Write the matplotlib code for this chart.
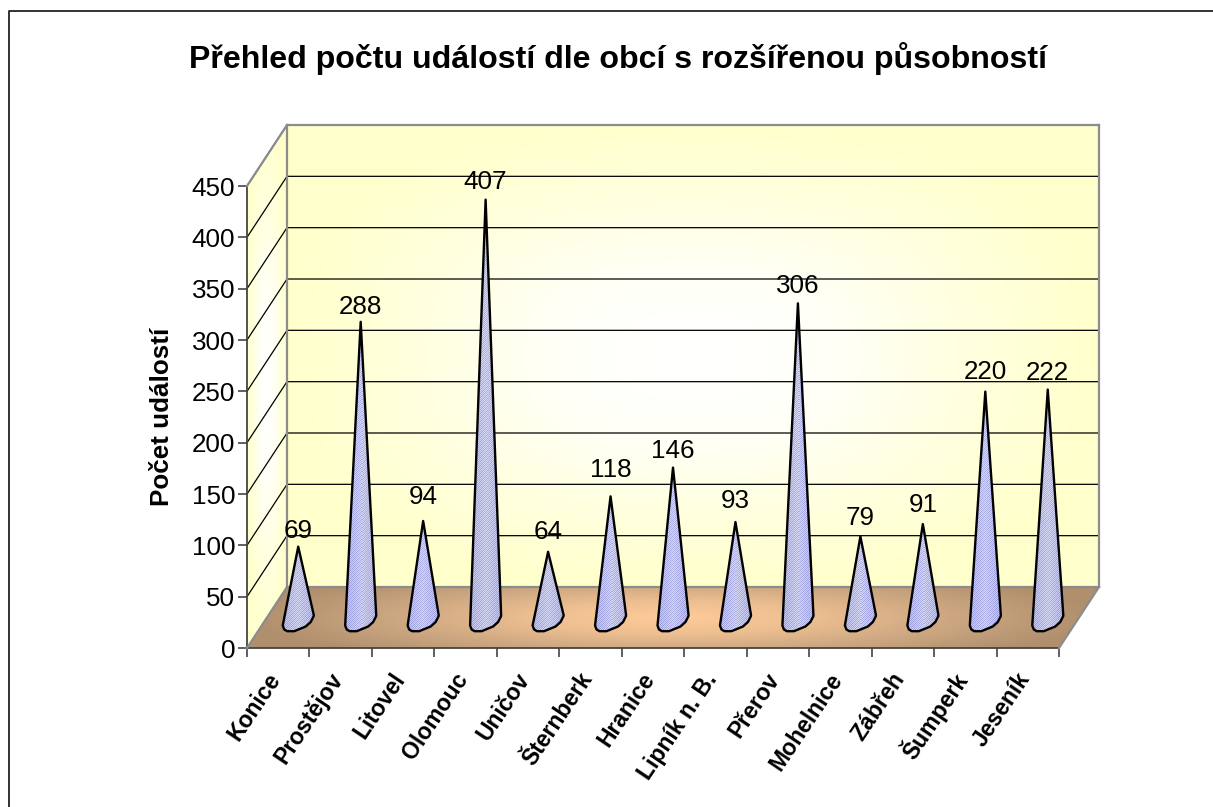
import numpy as np
import matplotlib.pyplot as plt
from matplotlib.patches import Polygon
from matplotlib.lines import Line2D
from matplotlib.colors import LinearSegmentedColormap

plt.rcParams['font.family'] = ['Liberation Sans', 'DejaVu Sans']

mesta = ["Konice", "Prostějov", "Litovel", "Olomouc", "Uničov", "Šternberk", "Hranice",
         "Lipník n. B.", "Přerov", "Mohelnice", "Zábřeh", "Šumperk", "Jeseník"]
udalosti = [69, 288, 94, 407, 64, 118, 146, 93, 306, 79, 91, 220, 222]
y_ticks = [0, 50, 100, 150, 200, 250, 300, 350, 400, 450]

W, H = 1213, 807
# front plane of the 3D box in pixels
LEFT, RIGHT, BOTTOM, TOP = 247, 1059, 648, 186
DX_PX, DY_PX = 40, 61
FS = 18.7
# label distance above the tip, pixels (the original is not even)
label_gap = [16, 15, 24, 18, 20, 26, 17, 21, 17, 18, 19, 20, 17]

fig = plt.figure(figsize=(W / 100, H / 100), dpi=100, facecolor='white')
ax = fig.add_axes([LEFT / W, 1 - BOTTOM / H, (RIGHT - LEFT) / W, (BOTTOM - TOP) / H])
n = len(mesta)
ax.set_xlim(0, n)
ax.set_ylim(0, 450)

ux = (RIGHT - LEFT) / n
uy = (BOTTOM - TOP) / 450


def proj(x, y, d=0.0):
    # x in categories, y in values, d = depth 0..1
    return x + d * DX_PX / ux, y + d * DY_PX / uy


wall_cmap = LinearSegmentedColormap.from_list('wall', ['#ffffff', '#fffff8', '#ffffe0', '#ffffcc'])
floor_cmap = LinearSegmentedColormap.from_list('floor', ['#ffcc99', '#ecbe90', '#cba681', '#b08f6d'])
cone_cmap = LinearSegmentedColormap.from_list('cone', ['#f4f4ff', '#c4c6f0', '#8f91d8', '#5a5ca8'])


def gradient(scale_v=1.0, power=2.0):
    # path style gradient, lightest in the middle
    uu, vv = np.meshgrid(np.linspace(-1, 1, 200), np.linspace(-1, 1, 200))
    zz = (np.abs(uu) ** power + np.abs(scale_v * vv) ** power) ** (1 / power)
    return np.clip(zz, 0, 1)


def fill_poly(corners, img, cmap, extent=None, zorder=1, interp='bilinear'):
    xs = [p[0] for p in corners]
    ys = [p[1] for p in corners]
    if extent is None:
        extent = (min(xs), max(xs), min(ys), max(ys))
    im = ax.imshow(img, extent=extent, origin='lower', cmap=cmap, vmin=0, vmax=1, aspect='auto',
                   zorder=zorder, interpolation=interp)
    clip = Polygon(corners, transform=ax.transData, facecolor='none', edgecolor='none')
    clip.set_clip_on(False)
    ax.add_patch(clip)
    im.set_clip_box(fig.bbox)
    im.set_clip_path(clip)


# back wall, floor and side wall
fill_poly([proj(0, 0, 1), proj(n, 0, 1), proj(n, 450, 1), proj(0, 450, 1)], gradient(power=2.6), wall_cmap)
fill_poly([proj(0, 0, 0), proj(n, 0, 0), proj(n, 0, 1), proj(0, 0, 1)], gradient(0.6), floor_cmap)
fill_poly([proj(0, 0, 0), proj(0, 0, 1), proj(0, 450, 1), proj(0, 450, 0)], gradient(power=2.6), wall_cmap)

# gridlines
for t in y_ticks[1:]:
    a = proj(0, t, 0)
    b = proj(0, t, 1)
    c = proj(n, t, 1)
    ax.plot([a[0], b[0], c[0]], [a[1], b[1], c[1]], color='black', lw=0.9, zorder=2, clip_on=False)

# box edges
edge = '#8c8c8c'
for p, q in [(proj(0, 450, 0), proj(0, 450, 1)), (proj(0, 450, 1), proj(n, 450, 1)),
             (proj(n, 450, 1), proj(n, 0, 1)), (proj(0, 0, 1), proj(0, 450, 1)),
             (proj(0, 0, 1), proj(n, 0, 1)), (proj(0, 0, 0), proj(0, 0, 1)),
             (proj(n, 0, 0), proj(n, 0, 1))]:
    ax.plot([p[0], q[0]], [p[1], q[1]], color=edge, lw=1.6, zorder=3, clip_on=False,
            solid_capstyle='projecting')

# cones
base_px = [(-15.5, 8), (-14, 12), (-11, 13.7), (-4, 13.7), (7.5, 9), (12.5, 4.5), (15.5, -1.5), (15.5, -2.7)]
for i, v in enumerate(udalosti):
    cx, cy = proj(i + 0.5, 0, 0.5)
    tip = proj(i + 0.5, v, 0.5)
    pts = [tip] + [(cx + bx / ux, cy - by / uy) for bx, by in base_px]

    # pixel dither, darker to the sides of the cone
    w_px = 34
    h_px = int(v * uy) + 18
    xx, yy = np.meshgrid(np.arange(w_px), np.arange(h_px))
    side = np.abs(np.linspace(-1, 1, w_px))[None, :]
    dith = ((xx + yy) % 2) * 0.30 + ((xx - yy) % 4 == 0) * 0.10
    tex = 0.50 - dith + side * 0.16
    y1 = tip[1]
    fill_poly(pts, tex, cone_cmap, extent=(cx - 17 / ux, cx + 17 / ux, y1 - h_px / uy, y1), zorder=4,
              interp='nearest')

    ax.add_patch(Polygon(pts, closed=True, facecolor='none', edgecolor='black', lw=1.7, zorder=5,
                         joinstyle='round', clip_on=False))
    ax.annotate(str(v), xy=tip, xytext=(0, label_gap[i] * 0.72), textcoords='offset points', ha='center',
                va='center', fontsize=FS, color='black', zorder=6, annotation_clip=False)

ax.set_xlim(0, n)
ax.set_ylim(0, 450)

# axes
for s in ['top', 'right']:
    ax.spines[s].set_visible(False)
for s in ['left', 'bottom']:
    ax.spines[s].set_color('#444444')
    ax.spines[s].set_linewidth(1.3)
ax.patch.set_visible(False)
ax.set_yticks(y_ticks)
ax.set_yticklabels([str(t) for t in y_ticks], fontsize=FS)
ax.set_xticks(np.arange(n + 1))
ax.set_xticklabels([''] * (n + 1))
ax.tick_params(axis='both', length=6.5, width=1.2, color='#444444', pad=2)

for i, m in enumerate(mesta):
    ax.annotate(m, xy=(i + 0.5, 0), xytext=(-2, -19.5), xycoords='data', textcoords='offset points',
                rotation=56, rotation_mode='anchor', ha='right', va='center', fontsize=16.6,
                fontweight='bold', annotation_clip=False)

fig.text(162 / W, 1 - 417 / H, "Počet událostí", rotation=90, ha='center', va='center',
         fontsize=FS, fontweight='bold')
fig.text(618 / W, 1 - 59 / H, "Přehled počtu událostí dle obcí s rozšířenou působností", ha='center',
         va='center', fontsize=23.1, fontweight='bold')

# outer frame, only top and left are in the picture
fig.add_artist(Line2D([9 / W, 9 / W, 1], [0, 1 - 11 / H, 1 - 11 / H], transform=fig.transFigure,
                      color='#222222', lw=1.3))

fig.savefig('out.png', dpi=100)
